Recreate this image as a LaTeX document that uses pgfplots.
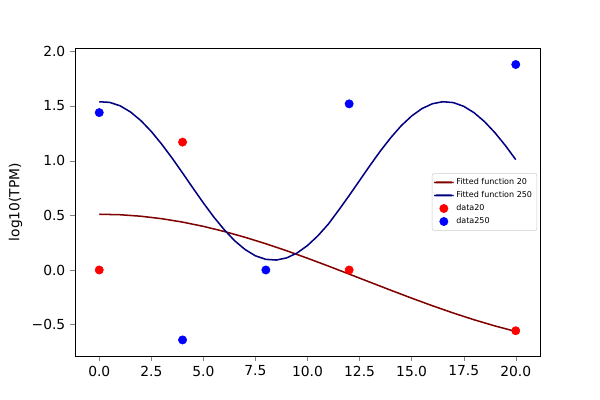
\documentclass[border=0pt]{standalone}
\usepackage{pgfplots}
\pgfplotsset{compat=1.18}
\usepackage{fontspec}
\setmainfont{DejaVu Sans}
\definecolor{fitA}{HTML}{800000}
\definecolor{fitB}{HTML}{000080}
\begin{document}
\begin{tikzpicture}[x=1pt,y=1pt]
\def\px{0.7227}
\useasboundingbox (-75*\px,-44*\px) rectangle (525*\px,356*\px);
\begin{axis}[
  at={(0,0)}, anchor=south west,
  scale only axis, width=465*\px pt, height=308*\px pt,
  xmin=-1.165, xmax=21.165, ymin=-0.787, ymax=2.031,
  xtick={0,2.5,5,7.5,10,12.5,15,17.5,20},
  xticklabels={0.0,2.5,5.0,7.5,10.0,12.5,15.0,17.5,20.0},
  ytick={-0.5,0,0.5,1,1.5,2},
  yticklabels={−0.5,0.0,0.5,1.0,1.5,2.0},
  tick label style={font=\fontsize{10}{12}\selectfont},
  tick align=outside, tick pos=left, major tick length=3.5pt,
  ylabel={log10(TPM)}, ylabel style={font=\fontsize{10}{12}\selectfont},
  legend style={at={(0.994,0.5)}, anchor=east, font=\fontsize{5.8}{7}\selectfont,
    draw=black!20, rounded corners=1.5pt, fill=white, row sep=-0.5pt,
    inner sep=1.5pt},
  legend cell align=left,
  axis line style={line width=0.58pt},
]
\addplot[color=fitA, line width=1.1pt, mark=none,
  legend image code/.code={\fill[fitA, draw=none] (0pt,-0.72pt) rectangle (14pt,0.72pt);}] coordinates {
(0,0.51)(1,0.5054)(2,0.4918)(3,0.4692)(4,0.4381)(5,0.399)(6,0.3525)(7,0.2992)(8,0.24)(9,0.1758)(10,0.1075)(11,0.0359)(12,-0.0375)(13,-0.1116)(14,-0.1853)(15,-0.2576)(16,-0.3274)(17,-0.3937)(18,-0.4555)(19,-0.512)(20,-0.5623)};
\addlegendentry{Fitted function 20}
\addplot[color=fitB, line width=1.1pt, mark=none,
  legend image code/.code={\fill[fitB, draw=none] (0pt,-0.72pt) rectangle (14pt,0.72pt);}] coordinates {
(0,1.539)(0.5,1.5335)(1,1.5021)(1.5,1.4457)(2,1.3664)(2.5,1.2669)(3,1.1506)(3.5,1.0232)(4,0.8875)(4.5,0.7493)(5,0.6133)(5.5,0.4848)(6,0.3687)(6.5,0.2677)(7,0.1876)(7.5,0.1294)(8,0.0973)(8.5,0.0909)(9,0.1106)(9.5,0.1555)(10,0.224)(10.5,0.313)(11,0.4196)(11.5,0.548)(12,0.6807)(12.5,0.8185)(13,0.956)(13.5,1.0888)(14,1.2108)(14.5,1.3197)(15,1.4087)(15.5,1.477)(16,1.5211)(16.5,1.5395)(17,1.5315)(17.5,1.4976)(18,1.4388)(18.5,1.3572)(19,1.2563)(19.5,1.1389)(20,1.0097)};
\addlegendentry{Fitted function 250}
\addplot[only marks, mark=*, mark size=3pt, color=red,
  legend image code/.code={\fill[red] (7pt,0pt) circle (3pt);}] coordinates {(0,0)(4,1.17)(12,0)(20,-0.556)};
\addlegendentry{data20}
\addplot[only marks, mark=*, mark size=3pt, color=blue,
  legend image code/.code={\fill[blue] (7pt,0pt) circle (3pt);}] coordinates {(0,1.44)(4,-0.64)(8,0)(12,1.52)(20,1.88)};
\addlegendentry{data250}
\end{axis}
\end{tikzpicture}
\end{document}
